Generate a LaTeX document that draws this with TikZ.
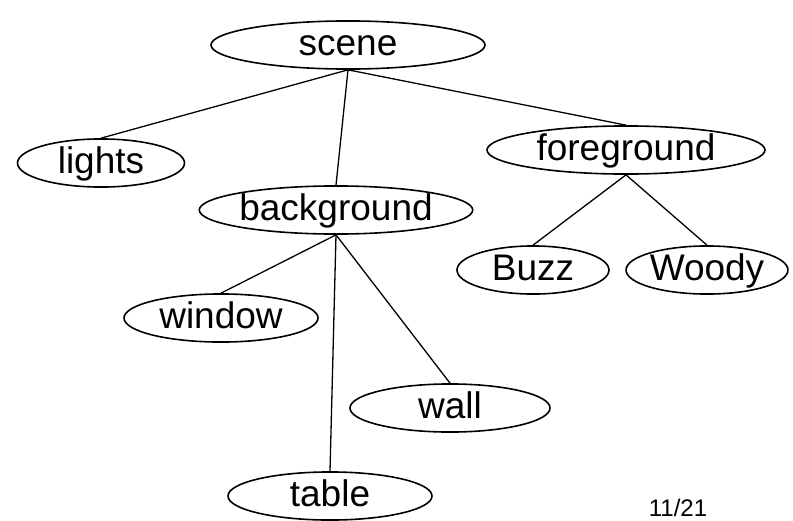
\documentclass[tikz,border=0pt]{standalone}
\usepackage{fontspec}
\setmainfont{Liberation Sans}
\usetikzlibrary{shapes.geometric}

\tikzset{
    treenode/.style={draw, ellipse, line width=1.6pt, inner sep=0pt,
        minimum height=46pt, text height=27pt, text depth=7pt,
        font=\fontsize{37}{41}\selectfont},
    treeedge/.style={line width=1.3pt}
}

\begin{document}
\begin{tikzpicture}[x=1pt, y=-1pt]
    \useasboundingbox (0,0) rectangle (793,520);

    % Nodes of the scene graph
    \node[treenode, minimum width=274pt] (scene) at (348,45) {scene};
    \node[treenode, minimum width=167pt] (lights) at (101,163) {lights};
    \node[treenode, minimum width=272pt] (background) at (336,210) {background};
    \node[treenode, minimum width=278pt] (foreground) at (626,150) {foreground};
    \node[treenode, minimum width=152pt] (buzz) at (533,270) {Buzz};
    \node[treenode, minimum width=140pt] (woody) at (707,270) {Woody};
    \node[treenode, minimum width=194pt] (window) at (221,318) {window};
    \node[treenode, minimum width=200pt] (wall) at (450,408) {wall};
    \node[treenode, minimum width=204pt] (table) at (330,496) {table};

    % Page number
    \node[font=\fontsize{24}{26}\selectfont, anchor=base, inner sep=0pt] (pagenum) at (678,516) {11/21};

    % Edges
    \draw[treeedge] (scene.south) -- (lights.north);
    \draw[treeedge] (scene.south) -- (background.north);
    \draw[treeedge] (scene.south) -- (foreground.north);
    \draw[treeedge] (foreground.south) -- (buzz.north);
    \draw[treeedge] (foreground.south) -- (woody.north);
    \draw[treeedge] (background.south) -- (window.north);
    \draw[treeedge] (background.south) -- (wall.north);
    \draw[treeedge] (background.south) -- (table.north);
\end{tikzpicture}
\end{document}
